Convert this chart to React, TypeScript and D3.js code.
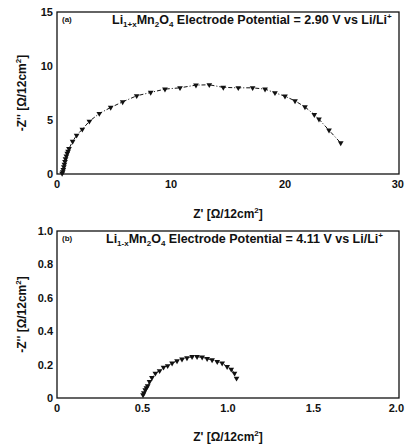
import React from "react";
import * as d3 from "d3";

// Panel (a): Li1+xMn2O4 at 2.90 V
const zRealA = [0.45, 0.5, 0.55, 0.6, 0.65, 0.7, 0.75, 0.82, 0.9, 0.97, 1.05, 1.37, 1.72, 2.22, 2.84, 3.71, 4.71, 5.76, 6.99, 8.22, 9.47, 10.79, 12.19, 13.36, 14.59, 15.9, 17.16, 18.25, 19.12, 20.0, 20.88, 21.75, 22.57, 22.98, 23.86, 24.89];
const zImagA = [0.05, 0.2, 0.4, 0.65, 0.9, 1.15, 1.4, 1.65, 1.9, 2.1, 2.34, 3.02, 3.58, 4.14, 4.88, 5.6, 6.16, 6.68, 7.24, 7.55, 7.86, 7.98, 8.23, 8.26, 8.02, 7.98, 7.98, 7.86, 7.52, 7.2, 6.77, 6.21, 5.5, 5.07, 4.05, 2.87];

// Panel (b): Li1-xMn2O4 at 4.11 V
const zRealB = [0.503, 0.508, 0.516, 0.523, 0.53, 0.541, 0.555, 0.575, 0.6, 0.623, 0.647, 0.673, 0.702, 0.731, 0.76, 0.79, 0.819, 0.849, 0.878, 0.907, 0.937, 0.966, 0.995, 1.019, 1.038, 1.05];
const zImagB = [0.018, 0.03, 0.048, 0.06, 0.072, 0.098, 0.122, 0.148, 0.163, 0.184, 0.193, 0.208, 0.222, 0.232, 0.24, 0.247, 0.247, 0.244, 0.235, 0.228, 0.218, 0.208, 0.188, 0.172, 0.148, 0.118];

const xTicksA = [0, 10, 20, 30];
const yTicksA = [0, 5, 10, 15];
const xTicksB = [0, 0.5, 1.0, 1.5, 2.0];
const yTicksB = [0, 0.2, 0.4, 0.6, 0.8, 1.0];

const font = "'Liberation Sans', Arial, sans-serif";

type PanelProps = {
  top: number;
  bottom: number;
  xs: number[];
  ys: number[];
  xDomain: [number, number];
  yDomain: [number, number];
  xTicks: number[];
  yTicks: number[];
  xFmt: (v: number) => string;
  yFmt: (v: number) => string;
  tag: string;
  sub1: string;
  volts: string;
  titleX: number;
  xLabelY: number;
};

const Panel = (p: PanelProps) => {
  const left = 57;
  const right = 399;
  const x = d3.scaleLinear().domain(p.xDomain).range([left, right]);
  const y = d3.scaleLinear().domain(p.yDomain).range([p.bottom, p.top]);
  const pts = p.xs.map((v, i) => [v, p.ys[i]] as [number, number]);
  const line = d3
    .line<[number, number]>()
    .x((d) => x(d[0]))
    .y((d) => y(d[1]));
  const tri = d3.symbol(d3.symbolTriangle, 14)();
  const midY = (p.top + p.bottom) / 2;

  return (
    <g fontFamily={font}>
      <rect x={left} y={p.top} width={right - left} height={p.bottom - p.top} fill="none" stroke="#111" strokeWidth={1.3} />
      {p.xTicks.map((t, i) => {
        const last = i === p.xTicks.length - 1;
        return (
          <text key={"x" + t} x={last ? 404 : x(t)} y={p.bottom + 14} textAnchor={last ? "end" : "middle"} fontSize={11} fontWeight="bold" fill="#111">
            {p.xFmt(t)}
          </text>
        );
      })}
      {p.yTicks.map((t) => (
        <text key={"y" + t} x={left - 4} y={y(t) + 4} textAnchor="end" fontSize={11} fontWeight="bold" fill="#111">
          {p.yFmt(t)}
        </text>
      ))}
      <path d={line(pts) ?? ""} fill="none" stroke="#111" strokeWidth={1} strokeDasharray="4,2,1,2" />
      {pts.map((d, i) => (
        <path key={i} d={tri ?? ""} transform={`translate(${x(d[0])},${y(d[1])}) rotate(180)`} fill="#111" />
      ))}
      <text x={left + 5} y={p.top + 10} fontSize={8} fontWeight="bold" fill="#111">
        {p.tag}
      </text>
      <text x={p.titleX} y={p.top + 12} fontSize={12.5} fontWeight="bold" fill="#111">
        Li<tspan fontSize={8} dy={3}>{p.sub1}</tspan>
        <tspan dy={-3}>Mn</tspan>
        <tspan fontSize={8} dy={3}>2</tspan>
        <tspan dy={-3}>O</tspan>
        <tspan fontSize={8} dy={3}>4</tspan>
        <tspan dy={-3}>{` Electrode Potential = ${p.volts} V vs Li/Li`}</tspan>
        <tspan fontSize={8} dy={-5}>+</tspan>
      </text>
      <text x={228} y={p.xLabelY} textAnchor="middle" fontSize={12} fontWeight="bold" fill="#111">
        Z' [Ω/12cm<tspan fontSize={8} dy={-5}>2</tspan>
        <tspan dy={5}>]</tspan>
      </text>
      <text transform={`translate(26,${midY}) rotate(-90)`} textAnchor="middle" fontSize={12} fontWeight="bold" fill="#111">
        -Z'' [Ω/12cm<tspan fontSize={8} dy={-5}>2</tspan>
        <tspan dy={5}>]</tspan>
      </text>
    </g>
  );
};

export default function App() {
  return (
    <svg width={405} height={444} style={{ position: "absolute", left: 0, top: 0, background: "#fff" }}>
      <Panel
        top={12}
        bottom={174}
        xs={zRealA}
        ys={zImagA}
        xDomain={[0, 30]}
        yDomain={[0, 15]}
        xTicks={xTicksA}
        yTicks={yTicksA}
        xFmt={(v) => String(v)}
        yFmt={(v) => String(v)}
        tag="(a)"
        sub1="1+x"
        volts="2.90"
        titleX={112}
        xLabelY={218}
      />
      <Panel
        top={231}
        bottom={398}
        xs={zRealB}
        ys={zImagB}
        xDomain={[0, 2]}
        yDomain={[0, 1]}
        xTicks={xTicksB}
        yTicks={yTicksB}
        xFmt={(v) => (v === 0 ? "0" : v.toFixed(1))}
        yFmt={(v) => (v === 0 ? "0" : v.toFixed(1))}
        tag="(b)"
        sub1="1-x"
        volts="4.11"
        titleX={106}
        xLabelY={441}
      />
    </svg>
  );
}
